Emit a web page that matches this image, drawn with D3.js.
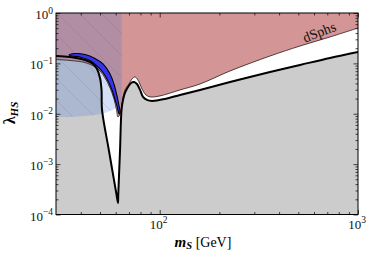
<!DOCTYPE html>
<html><head><meta charset="utf-8">
<script src="https://cdn.jsdelivr.net/npm/d3@7"></script>
<style>body{margin:0;background:#fff} svg{display:block}</style>
</head><body><svg id="c" width="374" height="258"></svg>
<script>
// ---- data (m_S in GeV, lambda_HS) ----
const relicMass   = [30, 35.3, 42.0, 46.1, 48.3, 50.0, 50.9, 51.2, 55.4, 60.6, 61.6, 61.8, 63.1, 64.2, 65.3, 66.8, 69.2, 71.7, 74.2, 76.8, 79.6, 82.4, 86.3, 91.5, 106.4, 126.6, 159.7, 226.3, 360, 510, 722, 1000];
const relicLambda = [0.140, 0.134, 0.117, 0.0973, 0.0774, 0.0513, 0.0297, 0.0119, 0.00191, 0.000245, 0.000170, 0.000245, 0.00191, 0.0119, 0.0188, 0.0259, 0.0340, 0.0408, 0.0428, 0.0390, 0.0297, 0.0216, 0.0188, 0.0180, 0.0197, 0.0236, 0.0297, 0.0428, 0.0675, 0.0930, 0.128, 0.168];

const dsphMass    = [30, 35.3, 42.0, 47.2, 50.0, 53.0, 56.2, 58.8, 60.6, 61.6, 63.1, 64.6, 66.8, 70.0, 72.5, 75.1, 77.7, 81.4, 85.3, 89.4, 100.3, 126.6, 159.7, 226.3, 360, 510, 722, 1000];
const dsphLambda  = [0.1195, 0.1142, 0.104, 0.0848, 0.0707, 0.0513, 0.0325, 0.0197, 0.0119, 0.00864, 0.00991, 0.0156, 0.0297, 0.0390, 0.0490, 0.0537, 0.0469, 0.0311, 0.0236, 0.0216, 0.0226, 0.0297, 0.0390, 0.0707, 0.140, 0.221, 0.334, 0.504];

const crescentMass   = [34.9, 37.4, 42.0, 47.2, 51.8, 56.2, 58.8, 60.9, 62.4, 63.1, 62.4, 60.9, 59.5, 57.5, 54.9, 51.8, 48.3, 44.5, 39.6, 36.1];
const crescentLambda = [0.1468, 0.157, 0.150, 0.125, 0.0973, 0.0616, 0.0390, 0.0226, 0.0143, 0.0109, 0.00991, 0.0143, 0.0192, 0.0297, 0.0448, 0.0660, 0.0888, 0.1142, 0.134, 0.140];

const invMass   = [30, 35.3, 42.0, 50.0, 56.2, 60.2, 63.1, 64.3];
const invLambda = [0.00864, 0.00864, 0.00904, 0.00991, 0.0114, 0.0130, 0.0150, 0.0156];

const xMajor = [100, 1000];
const xMinor = [40, 50, 60, 70, 80, 90, 200, 300, 400, 500, 600, 700, 800, 900];
const yMajor = [1e-4, 1e-3, 1e-2, 1e-1, 1];
const yExp   = [-4, -3, -2, -1, 0];
const xExp   = [2, 3];
const labelText = "dSphs";

// ---- layout ----
const L = 56, R = 358, T = 13, B = 214.5;
const svg = d3.select("#c");
const x = d3.scaleLog().domain([30, 1000]).range([L, R]);
const y = d3.scaleLog().domain([1e-4, 1]).range([B, T]);
const serif = "'Liberation Serif', 'DejaVu Serif', serif";

const defs = svg.append("defs");
defs.append("clipPath").attr("id", "plot").append("rect")
  .attr("x", L).attr("y", T).attr("width", R - L).attr("height", B - T);
const pat = defs.append("pattern").attr("id", "hatch").attr("patternUnits", "userSpaceOnUse")
  .attr("width", 22).attr("height", 22);
pat.append("path").attr("d", "M-4,-4 L26,26 M-4,18 L4,26 M18,-4 L26,4")
  .attr("stroke", "rgba(60,60,90,0.2)").attr("stroke-width", 0.6);

const g = svg.append("g").attr("clip-path", "url(#plot)");
const zip = (a, b) => a.map((v, i) => [v, b[i]]);
const relic = zip(relicMass, relicLambda);
const dsph = zip(dsphMass, dsphLambda);
const cres = zip(crescentMass, crescentLambda);
const inv = zip(invMass, invLambda);
const curve = d3.curveCatmullRom.alpha(0.5);

g.append("rect").attr("x", L).attr("y", T).attr("width", R - L).attr("height", B - T).attr("fill", "#fff");
g.append("path").datum(relic).attr("fill", "#cccccc")
  .attr("d", d3.area().curve(curve).x(d => x(d[0])).y0(y(1e-4)).y1(d => y(d[1])));
g.append("path").datum(dsph).attr("fill", "#d39595")
  .attr("d", d3.area().curve(curve).x(d => x(d[0])).y0(y(1)).y1(d => y(d[1])));
const invArea = d3.area().curve(curve).x(d => x(d[0])).y0(y(1)).y1(d => y(d[1]));
g.append("path").datum(inv).attr("fill", "rgba(70,120,220,0.23)").attr("d", invArea);
g.append("path").datum(inv).attr("fill", "url(#hatch)").attr("d", invArea);
g.append("path").datum(dsph).attr("fill", "none").attr("stroke", "#2a1a1a").attr("stroke-width", 0.8)
  .attr("d", d3.line().curve(curve).x(d => x(d[0])).y(d => y(d[1])));
g.append("path").datum(cres).attr("fill", "#3434ee").attr("stroke", "#000").attr("stroke-width", 1.1)
  .attr("d", d3.line().curve(d3.curveCatmullRomClosed.alpha(0.5)).x(d => x(d[0])).y(d => y(d[1])));
g.append("path").datum(relic).attr("fill", "none").attr("stroke", "#000").attr("stroke-width", 2)
  .attr("stroke-linejoin", "round")
  .attr("d", d3.line().curve(curve).x(d => x(d[0])).y(d => y(d[1])));

function ticks(axisGen, tr, vals, size) {
  const a = svg.append("g").attr("transform", tr)
    .call(axisGen.tickValues(vals).tickSize(size).tickFormat(""));
  a.select(".domain").remove();
  a.selectAll("line").attr("stroke", "#000").attr("stroke-width", 0.7);
}
const yMinor = [];
[-4, -3, -2, -1].forEach(e => { for (let k = 2; k <= 9; k++) yMinor.push(k * Math.pow(10, e)); });
ticks(d3.axisLeft(y), `translate(${L},0)`, yMajor, -4.5);
ticks(d3.axisLeft(y), `translate(${L},0)`, yMinor, -2.5);
ticks(d3.axisRight(y), `translate(${R},0)`, yMajor, -4.5);
ticks(d3.axisRight(y), `translate(${R},0)`, yMinor, -2.5);
ticks(d3.axisBottom(x), `translate(0,${B})`, xMajor, -4.5);
ticks(d3.axisBottom(x), `translate(0,${B})`, xMinor, -2.5);
ticks(d3.axisTop(x), `translate(0,${T})`, xMajor, -4.5);
ticks(d3.axisTop(x), `translate(0,${T})`, xMinor, -2.5);
svg.append("rect").attr("x", L).attr("y", T).attr("width", R - L).attr("height", B - T)
  .attr("fill", "none").attr("stroke", "#000").attr("stroke-width", 1);

yMajor.forEach((v, i) => {
  const t = svg.append("text").attr("x", 53).attr("y", y(v) + 6)
    .attr("text-anchor", "end").attr("font-family", serif).attr("font-size", 13).attr("fill", "#111");
  t.append("tspan").text("10");
  t.append("tspan").attr("dy", -5.5).attr("font-size", 9.5).text(String(yExp[i]).replace("-", "\u2212"));
});
xMajor.forEach((v, i) => {
  const t = svg.append("text").attr("x", x(v) - 1).attr("y", 228.5)
    .attr("text-anchor", "middle").attr("font-family", serif).attr("font-size", 13).attr("fill", "#111");
  t.append("tspan").text("10");
  t.append("tspan").attr("dy", -5.5).attr("font-size", 9.5).text(String(xExp[i]));
});

const xt = svg.append("text").attr("x", 203).attr("y", 246.5).attr("text-anchor", "middle")
  .attr("font-family", serif).attr("fill", "#000");
xt.append("tspan").attr("font-style", "italic").attr("font-weight", "bold").attr("font-size", 15).text("m");
xt.append("tspan").attr("font-style", "italic").attr("font-weight", "bold").attr("font-size", 10.5).attr("dy", 2.5).text("S");
xt.append("tspan").attr("font-size", 14).attr("dy", -2.5).text(" [GeV]");

const yt = svg.append("text").attr("transform", "translate(15,113) rotate(-90)").attr("text-anchor", "middle")
  .attr("font-family", serif).attr("fill", "#000").attr("font-weight", "bold");
yt.append("tspan").attr("font-size", 16).text("\u03bb");
yt.append("tspan").attr("font-size", 11).attr("font-style", "italic").attr("dy", 2.5).text("HS");

svg.append("text").attr("transform", "translate(321,36.5) rotate(-21)").attr("text-anchor", "middle")
  .attr("font-family", serif).attr("font-size", 14).attr("fill", "#111").text(labelText);
</script></body></html>
